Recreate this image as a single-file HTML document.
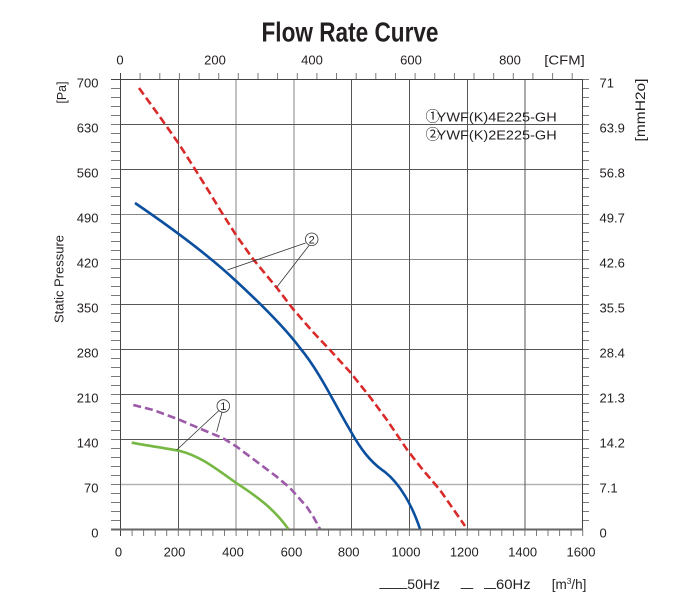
<!DOCTYPE html>
<html><head><meta charset="utf-8"><style>
html,body{margin:0;padding:0;background:#fff;}
svg{display:block;}
text{font-family:"Liberation Sans","Noto Sans CJK JP",sans-serif;fill:#231f20;}
</style></head><body>
<svg width="700" height="598" viewBox="0 0 700 598" xmlns="http://www.w3.org/2000/svg">
<rect width="700" height="598" fill="#fff"/>
<text x="350" y="41.7" text-anchor="middle" font-size="28" font-weight="bold" textLength="177" lengthAdjust="spacingAndGlyphs">Flow Rate Curve</text>
<g stroke="#b3b3b3" stroke-width="1.6" fill="none">
<path d="M236 79.5V529.5M294 79.5V529.5M120.5 484.5H582.5"/>
</g>
<g stroke="#8a8a8a" stroke-width="1" fill="none">
<path d="M120.5 214.5H582.5M120.5 259.5H582.5"/>
</g>
<g stroke="#555" stroke-width="1" fill="none">
<path d="M178.5 79.5V529.5M351.5 79.5V529.5M409.5 79.5V529.5M467.5 79.5V529.5M525 79.5V529.5"/>
<path d="M120.5 124.5H582.5M120.5 169.5H582.5M120.5 304.5H582.5M120.5 349.5H582.5M120.5 394.5H582.5M120.5 439.5H582.5"/>
</g>
<g stroke="#7a7a7a" stroke-width="1" fill="none">
<path d="M111 520.5H120.5M111 511.5H120.5M111 502.5H120.5M111 493.5H120.5M111 484.5H120.5M111 475.5H120.5M111 466.5H120.5M111 457.5H120.5M111 448.5H120.5M111 439.5H120.5M111 430.5H120.5M111 421.5H120.5M111 412.5H120.5M111 403.5H120.5M111 394.5H120.5M111 385.5H120.5M111 376.5H120.5M111 367.5H120.5M111 358.5H120.5M111 349.5H120.5M111 340.5H120.5M111 331.5H120.5M111 322.5H120.5M111 313.5H120.5M111 304.5H120.5M111 295.5H120.5M111 286.5H120.5M111 277.5H120.5M111 268.5H120.5M111 259.5H120.5M111 250.5H120.5M111 241.5H120.5M111 232.5H120.5M111 223.5H120.5M111 214.5H120.5M111 205.5H120.5M111 196.5H120.5M111 187.5H120.5M111 178.5H120.5M111 169.5H120.5M111 160.5H120.5M111 151.5H120.5M111 142.5H120.5M111 133.5H120.5M111 124.5H120.5M111 115.5H120.5M111 106.5H120.5M111 97.5H120.5M111 88.5H120.5"/>
<path d="M582.5 520.5H589M582.5 511.5H589M582.5 502.5H589M582.5 493.5H589M582.5 484.5H589M582.5 475.5H589M582.5 466.5H589M582.5 457.5H589M582.5 448.5H589M582.5 439.5H589M582.5 430.5H589M582.5 421.5H589M582.5 412.5H589M582.5 403.5H589M582.5 394.5H589M582.5 385.5H589M582.5 376.5H589M582.5 367.5H589M582.5 358.5H589M582.5 349.5H589M582.5 340.5H589M582.5 331.5H589M582.5 322.5H589M582.5 313.5H589M582.5 304.5H589M582.5 295.5H589M582.5 286.5H589M582.5 277.5H589M582.5 268.5H589M582.5 259.5H589M582.5 250.5H589M582.5 241.5H589M582.5 232.5H589M582.5 223.5H589M582.5 214.5H589M582.5 205.5H589M582.5 196.5H589M582.5 187.5H589M582.5 178.5H589M582.5 169.5H589M582.5 160.5H589M582.5 151.5H589M582.5 142.5H589M582.5 133.5H589M582.5 124.5H589M582.5 115.5H589M582.5 106.5H589M582.5 97.5H589M582.5 88.5H589M582.5 79.5H589"/>
<path d="M132.1 529.5V536M143.6 529.5V536M155.2 529.5V536M166.7 529.5V536M178.3 529.5V536M189.8 529.5V536M201.4 529.5V536M212.9 529.5V536M224.5 529.5V536M236.1 529.5V536M247.6 529.5V536M259.2 529.5V536M270.7 529.5V536M282.3 529.5V536M293.8 529.5V536M305.4 529.5V536M316.9 529.5V536M328.5 529.5V536M340.1 529.5V536M351.6 529.5V536M363.2 529.5V536M374.7 529.5V536M386.3 529.5V536M397.8 529.5V536M409.4 529.5V536M420.9 529.5V536M432.5 529.5V536M444 529.5V536M455.6 529.5V536M467.2 529.5V536M478.7 529.5V536M490.3 529.5V536M501.8 529.5V536M513.4 529.5V536M524.9 529.5V536M536.5 529.5V536M548 529.5V536M559.6 529.5V536M571.1 529.5V536M582.7 529.5V536"/>
<path d="M140.1 73V79.5M159.8 73V79.5M179.4 73V79.5M199.1 73V79.5M218.7 73V79.5M238.3 73V79.5M258 73V79.5M277.6 73V79.5M297.3 73V79.5M316.9 73V79.5M336.5 73V79.5M356.2 73V79.5M375.8 73V79.5M395.5 73V79.5M415.1 73V79.5M434.7 73V79.5M454.4 73V79.5M474 73V79.5M493.7 73V79.5M513.3 73V79.5M532.9 73V79.5M552.6 73V79.5M572.2 73V79.5"/>
</g>
<g stroke="#444" stroke-width="1" fill="none">
<path d="M111 79.5H583M120.5 73V536M582.5 79.5V529.5"/>
</g>
<path d="M111 529.5H583" stroke="#666" stroke-width="2" fill="none"/>

<!-- curves -->
<g fill="none" stroke-width="2.6" stroke-linejoin="round" stroke-linecap="butt">
<path stroke="#0b4f9f" d="M135,203 C160,220 205,252 236,281 C262,305 285,328 300,348 C320,372 335,405 350,430 C360,448 370,462 385,472 C400,484 412,505 420,529"/>
<polyline stroke="#d92a2a" stroke-dasharray="8 4" points="139,88 160,117 178.3,143 193,166 208,190 222,213 236,235 253,259 277,288 293,309 313,332 330,350 350,372 370,397 387,420 408,451 423,470 440,490 465,526"/>
<polyline stroke="#9c5aa8" stroke-dasharray="8 4" points="133.3,405 153.3,410 178.3,419.3 203.3,430 223.3,438.3 236.7,446.7 256.7,461.7 276.7,476.7 290,488 306.7,506.7 313.5,517 320,529"/>
<path stroke="#76b843" d="M131.7,442.7 C150,446 170,449 180,451 C200,456 215,468 236.7,483.3 C258,497 275,510 288.3,529"/>
</g>

<!-- annotations -->
<g stroke="#333" stroke-width="0.8" fill="none">
<path d="M305.5 243 L227.3 270 M309 245.5 L276.7 287.3"/>
<circle cx="311.7" cy="239.3" r="6.3" fill="#fff"/>
<path d="M219 410.5 L176.7 450 M222 412.3 L216.7 431.7"/>
<circle cx="223.3" cy="406" r="6.3" fill="#fff"/>
</g>
<text x="311.7" y="243.3" text-anchor="middle" font-size="11">2</text>
<text x="223.3" y="410" text-anchor="middle" font-size="11">1</text>

<!-- left labels -->
<g font-size="13" text-anchor="end">
<text x="98.5" y="87.5">700</text>
<text x="98.5" y="132.5">630</text>
<text x="98.5" y="177.5">560</text>
<text x="98.5" y="222.5">490</text>
<text x="98.5" y="267.5">420</text>
<text x="98.5" y="312.5">350</text>
<text x="98.5" y="357.5">280</text>
<text x="98.5" y="402.5">210</text>
<text x="98.5" y="447.5">140</text>
<text x="98.5" y="492.5">70</text>
<text x="98.5" y="537.5">0</text>
</g>
<!-- right labels -->
<g font-size="13">
<text x="599.5" y="87.5">71</text>
<text x="599.5" y="132.5">63.9</text>
<text x="599.5" y="177.5">56.8</text>
<text x="599.5" y="222.5">49.7</text>
<text x="599.5" y="267.5">42.6</text>
<text x="599.5" y="312.5">35.5</text>
<text x="599.5" y="357.5">28.4</text>
<text x="599.5" y="402.5">21.3</text>
<text x="599.5" y="447.5">14.2</text>
<text x="599.5" y="492.5">7.1</text>
<text x="599.5" y="537.5">0</text>
</g>
<!-- bottom labels -->
<g font-size="13" text-anchor="middle">
<text x="118.5" y="556.5">0</text>
<text x="174.5" y="556.5">200</text>
<text x="233" y="556.5">400</text>
<text x="291.5" y="556.5">600</text>
<text x="348.7" y="556.5">800</text>
<text x="406" y="556.5">1000</text>
<text x="464.3" y="556.5">1200</text>
<text x="522.6" y="556.5">1400</text>
<text x="581" y="556.5">1600</text>
</g>
<!-- top labels -->
<g font-size="13" text-anchor="middle">
<text x="120" y="64.5">0</text>
<text x="215" y="64.5">200</text>
<text x="312" y="64.5">400</text>
<text x="411" y="64.5">600</text>
<text x="510" y="64.5">800</text>
</g>
<text x="544.3" y="64.5" font-size="13" textLength="40.5" lengthAdjust="spacingAndGlyphs">[CFM]</text>

<!-- axis titles -->
<text transform="translate(66,92.5) rotate(-90)" text-anchor="middle" font-size="13" textLength="22" lengthAdjust="spacingAndGlyphs">[Pa]</text>
<text transform="translate(63.5,279) rotate(-90)" text-anchor="middle" font-size="13" textLength="88" lengthAdjust="spacingAndGlyphs">Static Pressure</text>
<text transform="translate(645,110) rotate(-90)" text-anchor="middle" font-size="13.5" textLength="63" lengthAdjust="spacingAndGlyphs">[mmH2o]</text>

<!-- legend -->
<text x="425.5" y="121.5" font-size="14.5">①</text>
<text x="425.5" y="139.5" font-size="14.5">②</text>
<text x="436.7" y="121.3" font-size="13" textLength="120" lengthAdjust="spacingAndGlyphs">YWF(K)4E225-GH</text>
<text x="436.7" y="139.3" font-size="13" textLength="120" lengthAdjust="spacingAndGlyphs">YWF(K)2E225-GH</text>

<!-- bottom legend -->
<g stroke="#333" stroke-width="1">
<path d="M379.3 588.5H407.3M460.7 588.5H473.3M484 588.5H496"/>
</g>
<text x="407.3" y="589" font-size="13.5" textLength="32.7" lengthAdjust="spacingAndGlyphs">50Hz</text>
<text x="496" y="589" font-size="13.5" textLength="34.7" lengthAdjust="spacingAndGlyphs">60Hz</text>
<text x="551.7" y="589" font-size="13.5">[m<tspan font-size="8.5" dy="-5">3</tspan><tspan dy="5">/h]</tspan></text>
</svg>
</body></html>
